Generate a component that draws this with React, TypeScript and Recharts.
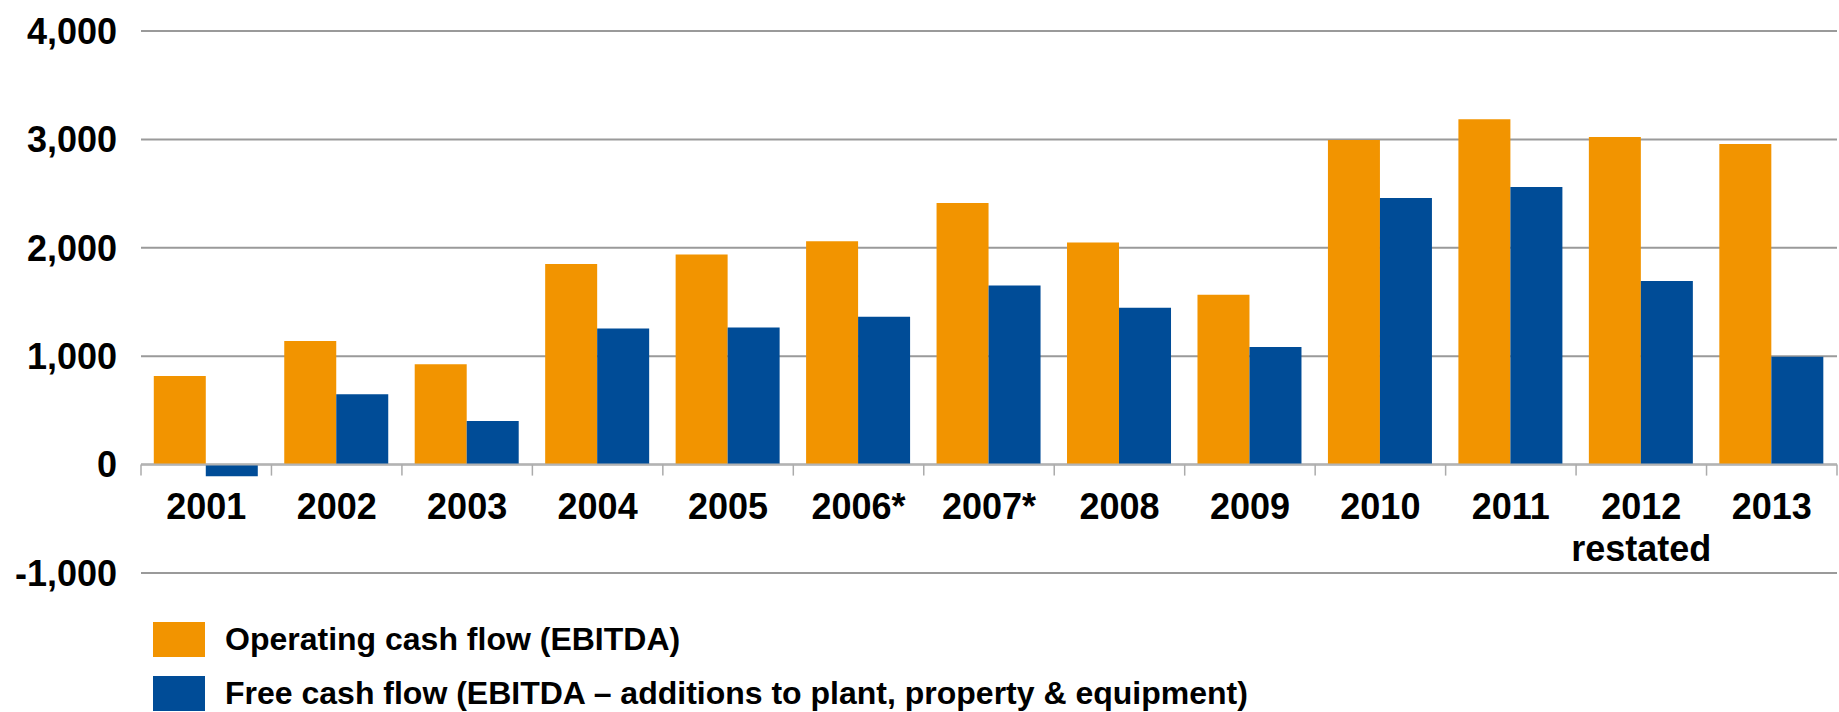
import React from "react";
import { BarChart, Bar, XAxis, YAxis, CartesianGrid, ReferenceLine } from "recharts";

const YEARS = ["2001", "2002", "2003", "2004", "2005", "2006*", "2007*", "2008", "2009", "2010", "2011", "2012", "2013"];
const SUB_LABELS = ["", "", "", "", "", "", "", "", "", "", "", "restated", ""];
const OPERATING = [817, 1140, 925, 1850, 1939, 2061, 2414, 2049, 1567, 2995, 3187, 3021, 2957];
const FREE = [-107, 649, 403, 1255, 1264, 1365, 1653, 1448, 1086, 2460, 2561, 1693, 994];
const Y_TICKS = [-1000, 0, 1000, 2000, 3000, 4000];
const SERIES = [
  { key: "operating", name: "Operating cash flow (EBITDA)", color: "#F29400" },
  { key: "free", name: "Free cash flow (EBITDA – additions to plant, property & equipment)", color: "#004C97" },
];

const data = YEARS.map((year, i) => ({
  year,
  sub: SUB_LABELS[i],
  operating: OPERATING[i],
  free: FREE[i],
}));

const FONT = "'Liberation Sans', Arial, Helvetica, sans-serif";
const W = 1839;
const H = 712;
const TOP = 31;
const PLOT_BOTTOM = 573;
const LEFT = 141;
const RIGHT = 1837;
const Y_MIN = -1000;
const Y_MAX = 4000;
// distance between the plot bottom (-1,000) and the zero line
const ZERO_SHIFT = ((PLOT_BOTTOM - TOP) * (0 - Y_MIN)) / (Y_MAX - Y_MIN);
const BAND = (RIGHT - LEFT) / YEARS.length;

function YearTick(props: any) {
  const { x, y, payload, index } = props;
  const half = payload && payload.offset ? payload.offset : BAND / 2;
  const y0 = y - ZERO_SHIFT;
  const sub = SUB_LABELS[index];
  return (
    <g>
      <line x1={x - half} x2={x - half} y1={y0} y2={y0 + 11} stroke="#ababab" strokeWidth={1.5} />
      {index === YEARS.length - 1 && (
        <line x1={x + half} x2={x + half} y1={y0} y2={y0 + 11} stroke="#ababab" strokeWidth={1.5} />
      )}
      <text x={x} y={y0 + 54} textAnchor="middle" fill="#000" fontSize={36} fontWeight="bold" style={{ fontFamily: FONT }}>
        {payload.value}
      </text>
      {sub && (
        <text x={x} y={y0 + 96} textAnchor="middle" fill="#000" fontSize={36} fontWeight="bold" style={{ fontFamily: FONT }}>
          {sub}
        </text>
      )}
    </g>
  );
}

export default function App() {
  return (
    <div style={{ position: "relative", width: W, height: H, background: "#fff" }}>
      <style>{`body{margin:0}`}</style>
      <BarChart
        width={W}
        height={H}
        data={data}
        margin={{ top: TOP, right: W - RIGHT, bottom: 0, left: 0 }}
        barCategoryGap="9.8%"
        barGap={0}
      >
        <CartesianGrid vertical={false} stroke="#9a9a9a" strokeWidth={2} />
        <XAxis
          dataKey="year"
          height={H - PLOT_BOTTOM}
          axisLine={false}
          tickLine={false}
          tickSize={0}
          tickMargin={0}
          interval={0}
          tick={<YearTick />}
        />
        <YAxis
          width={LEFT}
          domain={[Y_MIN, Y_MAX]}
          ticks={Y_TICKS}
          axisLine={false}
          tickLine={false}
          tickSize={0}
          tickMargin={24}
          tickFormatter={(v: number) => v.toLocaleString("en-US")}
          tick={{ fill: "#000", fontSize: 36, fontWeight: "bold", fontFamily: FONT }}
        />
        {SERIES.map((s) => (
          <Bar key={s.key} dataKey={s.key} name={s.name} fill={s.color} isAnimationActive={false} />
        ))}
        <ReferenceLine y={0} stroke="#b3b3b3" strokeWidth={2} />
      </BarChart>

      {/* legend under the chart */}
      <div style={{ position: "absolute", left: 153, top: 622, fontFamily: FONT }}>
        {SERIES.map((s, i) => (
          <div
            key={s.key}
            style={{ display: "flex", alignItems: "center", height: 35, marginBottom: i === 0 ? 19 : 0 }}
          >
            <span style={{ display: "inline-block", width: 52, height: 35, background: s.color }} />
            <span style={{ marginLeft: 20, fontSize: 32, fontWeight: "bold", color: "#000", whiteSpace: "nowrap" }}>
              {s.name}
            </span>
          </div>
        ))}
      </div>
    </div>
  );
}
